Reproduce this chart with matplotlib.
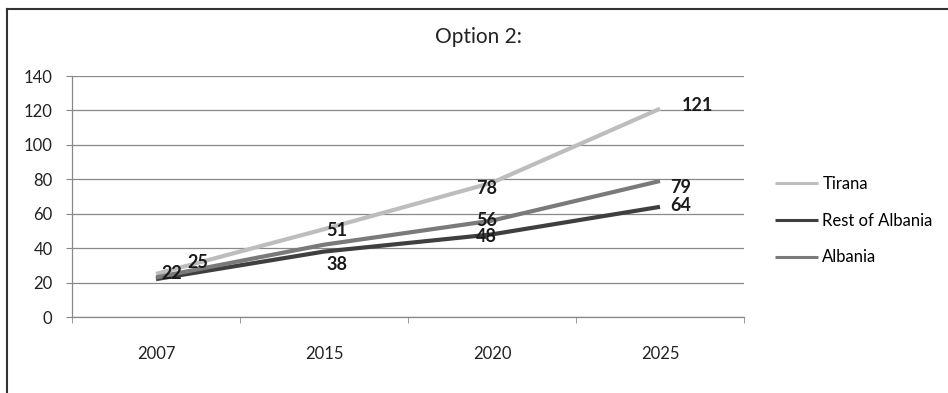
import matplotlib.pyplot as plt
from matplotlib.lines import Line2D

plt.rcParams['font.family'] = ['Lato', 'DejaVu Sans']

years = ['2007', '2015', '2020', '2025']
tirana = [25, 51, 78, 121]
rest_of_albania = [22, 38, 48, 64]
albania = [23, 42, 56, 79]

series_names = ['Tirana', 'Rest of Albania', 'Albania']
series_colors = ['#bdbdbd', '#3f3f3f', '#7a7a7a']

# which points carry a label, with offsets in points (dx, dy)
label_offsets = {
    'Tirana': {0: (30, 8), 1: (9, -1), 2: (-4, -4), 3: (27, 2)},
    'Rest of Albania': {0: (11, 4), 1: (9, -9), 2: (-4, -1.5), 3: (15, 1)},
    'Albania': {2: (-4, 0), 3: (15, -5)},
}

fig = plt.figure(figsize=(9.48, 3.93), dpi=100)
ax = fig.add_axes([72 / 948, 1 - 317 / 393, 672 / 948, 241 / 393])

x = list(range(len(years)))
data = {'Tirana': tirana, 'Rest of Albania': rest_of_albania, 'Albania': albania}
for name, color in zip(series_names, series_colors):
    ax.plot(x, data[name], color=color, lw=3, solid_capstyle='butt', label=name)

for name in series_names:
    for i, (dx, dy) in label_offsets[name].items():
        ax.annotate(str(data[name][i]), (x[i], data[name][i]), xytext=(dx, dy),
                    textcoords='offset points', ha='center', va='center',
                    fontsize=13, fontweight='bold', color='#1a1a1a')

ax.set_xlim(-0.5, 3.5)
ax.set_ylim(0, 140)
ax.set_yticks(range(0, 141, 20))
ax.yaxis.grid(True, color='#888888', lw=0.9)
ax.set_axisbelow(True)

ax.set_xticks(x)
ax.set_xticklabels(years)
ax.set_xticks([-0.5, 0.5, 1.5, 2.5, 3.5], minor=True)
ax.tick_params(axis='x', which='major', length=0, pad=21, labelsize=12, labelcolor='#222222')
ax.tick_params(axis='x', which='minor', length=4, color='#888888')
ax.tick_params(axis='y', length=4, color='#888888', pad=10, labelsize=12, labelcolor='#222222')

for s in ['top', 'right']:
    ax.spines[s].set_visible(False)
for s in ['left', 'bottom']:
    ax.spines[s].set_color('#888888')
    ax.spines[s].set_linewidth(0.9)

fig.text(478 / 948, 1 - 37 / 393, 'Option 2:', fontsize=15, color='#222222',
         ha='center', va='center')

leg = ax.legend(loc='center left', bbox_to_anchor=(1.046, 0.40), frameon=False,
                fontsize=12, handlelength=2.6, handletextpad=0.25, labelspacing=1.25,
                borderpad=0, borderaxespad=0)
for h in leg.get_lines():
    h.set_linewidth(2.2)

# outer chart border (left and top visible)
fig.add_artist(Line2D([7 / 948, 7 / 948], [0, 1 - 9 / 393], color='#333333', lw=1.5))
fig.add_artist(Line2D([7 / 948, 1], [1 - 9 / 393, 1 - 9 / 393], color='#333333', lw=1.5))

fig.savefig('out.png', dpi=100)
